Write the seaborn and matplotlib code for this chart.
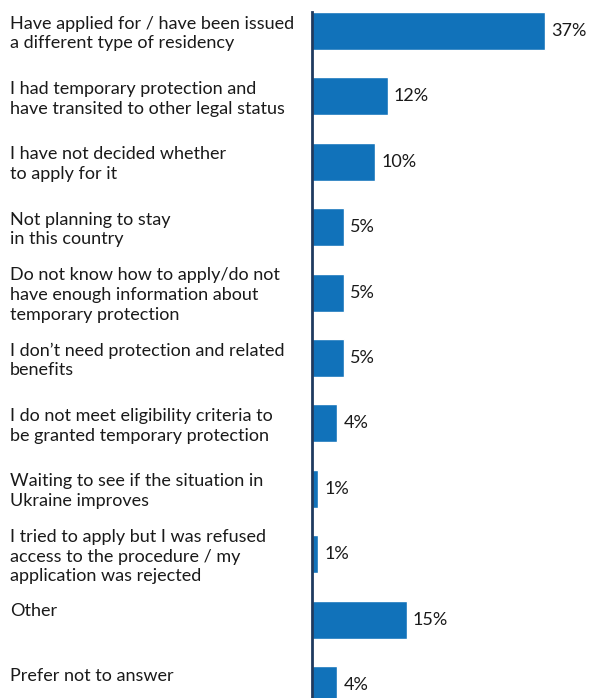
import matplotlib
matplotlib.use("Agg")
import matplotlib.pyplot as plt
import matplotlib.transforms as mtransforms
import seaborn as sns
import pandas as pd

categories = [
    "Have applied for / have been issued\na different type of residency",
    "I had temporary protection and\nhave transited to other legal status",
    "I have not decided whether\nto apply for it",
    "Not planning to stay\nin this country",
    "Do not know how to apply/do not\nhave enough information about\ntemporary protection",
    "I don\u2019t need protection and related\nbenefits",
    "I do not meet eligibility criteria to\nbe granted temporary protection",
    "Waiting to see if the situation in\nUkraine improves",
    "I tried to apply but I was refused\naccess to the procedure / my\napplication was rejected",
    "Other",
    "Prefer not to answer",
]
values = [37, 12, 10, 5, 5, 5, 4, 1, 1, 15, 4]
value_labels = ["37%", "12%", "10%", "5%", "5%", "5%", "4%", "1%", "1%", "15%", "4%"]

sns.set_theme(style="white")
plt.rcParams["font.family"] = ["Lato", "DejaVu Sans"]

W, H, DPI = 589, 698, 100
fig = plt.figure(figsize=(W / DPI, H / DPI), dpi=DPI)

ax_left = 312 / W
ax_top = 12 / H
ax = fig.add_axes([ax_left, 0, 1 - ax_left, 1 - ax_top])

df = pd.DataFrame({"category": categories, "value": values})
bar_w = 0.58
sns.barplot(data=df, x="value", y="category", color="#1172ba", saturation=1,
            width=bar_w, orient="h", ax=ax)

px_per_unit = 6.3
ax.set_xlim(0, (W - 312) / px_per_unit)
row_px = 65.4
ax.set_ylim(-bar_w / 2 + (H - 12) / row_px, -bar_w / 2)

for s in ["top", "right", "bottom"]:
    ax.spines[s].set_visible(False)
ax.spines["left"].set_color("#1f3a5f")
ax.spines["left"].set_linewidth(2)
ax.set_xticks([])
ax.set_yticks([])
ax.set_xlabel("")
ax.set_ylabel("")

text_color = "#1a1a1a"
line_px = 20.5
trans = mtransforms.blended_transform_factory(fig.transFigure, ax.transData)
for i, (cat, v, lab) in enumerate(zip(categories, values, value_labels)):
    n_lines = cat.count("\n") + 1
    # multi-line labels are centred on the bar; single lines sit in the upper slot
    dy = -2.5 if n_lines > 1 else line_px / 2 - 1.5
    ax.annotate(cat, xy=(10 / W, i), xycoords=trans, xytext=(0, dy),
                textcoords="offset pixels", ha="left", va="center",
                fontsize=13, color=text_color, linespacing=1.28)
    ax.annotate(lab, xy=(v, i), xytext=(4.5, 0), textcoords="offset points",
                ha="left", va="center", fontsize=13, color=text_color)

fig.savefig("out.png", dpi=DPI)
